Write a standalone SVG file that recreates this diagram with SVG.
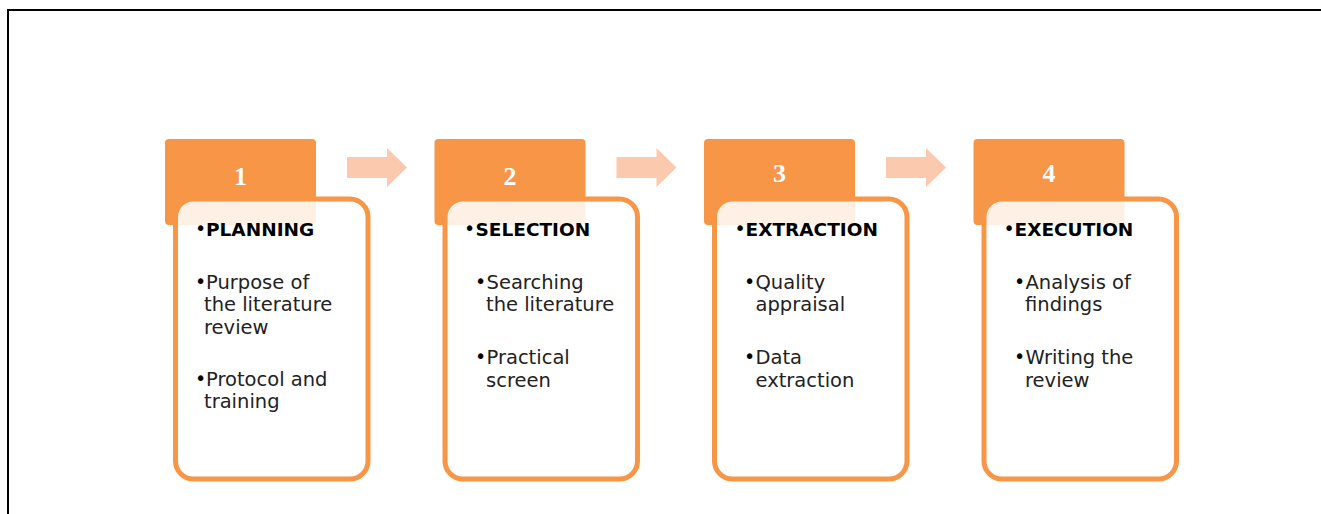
<svg xmlns="http://www.w3.org/2000/svg" width="1321" height="514" viewBox="0 0 1321 514">
<style>
.hdr{fill:#F79646}
.card{fill:#fff;fill-opacity:0.86;stroke:#F79646;stroke-width:5}
.num{font-family:"Liberation Serif",serif;font-weight:bold;font-size:26px;fill:#fff;text-anchor:middle}
.h{font-family:"DejaVu Sans",sans-serif;font-weight:bold;font-size:18.5px;fill:#000}
.t{font-family:"DejaVu Sans",sans-serif;font-size:19.5px;fill:#222}
.b{font-family:"DejaVu Sans",sans-serif;font-size:19px;fill:#000}
.arr{fill:#FBC9AE}
</style>
<rect width="1321" height="514" fill="#fff"/>
<path d="M8 514 V10 H1321" fill="none" stroke="#000" stroke-width="2"/>
<g id="connectors">
<polygon class="arr" points="347,157 387,157 387,148 407,167.5 387,187 387,178 347,178"/>
<polygon class="arr" transform="translate(269.5,0)" points="347,157 387,157 387,148 407,167.5 387,187 387,178 347,178"/>
<polygon class="arr" transform="translate(539,0)" points="347,157 387,157 387,148 407,167.5 387,187 387,178 347,178"/>
</g>
<g id="node1">
<rect class="hdr" x="165" y="139" width="151" height="86" rx="4"/>
<text class="num" x="240.5" y="185">1</text>
<rect class="card" x="175.5" y="199" width="192.5" height="280" rx="18"/>
<text class="b" x="195" y="235">•</text><text class="h" x="206" y="236">PLANNING</text>
<text class="b" x="195" y="288">•</text><text class="t" x="206" y="289">Purpose of</text>
<text class="t" x="204" y="311">the literature</text>
<text class="t" x="204" y="334">review</text>
<text class="b" x="195" y="385">•</text><text class="t" x="206" y="386">Protocol and</text>
<text class="t" x="204" y="408">training</text>
</g>
<g id="node2">
<rect class="hdr" x="434.5" y="139" width="151" height="86" rx="4"/>
<text class="num" x="510" y="185">2</text>
<rect class="card" x="445" y="199" width="192.5" height="280" rx="18"/>
<text class="b" x="464" y="235">•</text><text class="h" x="475.5" y="236">SELECTION</text>
<text class="b" x="475" y="288">•</text><text class="t" x="486.5" y="289">Searching</text>
<text class="t" x="486" y="311">the literature</text>
<text class="b" x="475" y="363">•</text><text class="t" x="486.5" y="364">Practical</text>
<text class="t" x="486" y="387">screen</text>
</g>
<g id="node3">
<rect class="hdr" x="704" y="139" width="151" height="86" rx="4"/>
<text class="num" x="779.5" y="182">3</text>
<rect class="card" x="714.5" y="199" width="192.5" height="280" rx="18"/>
<text class="b" x="734.5" y="235">•</text><text class="h" x="745.5" y="236">EXTRACTION</text>
<text class="b" x="744" y="288">•</text><text class="t" x="755.5" y="289">Quality</text>
<text class="t" x="755.5" y="311">appraisal</text>
<text class="b" x="744" y="363">•</text><text class="t" x="755.5" y="364">Data</text>
<text class="t" x="755.5" y="387">extraction</text>
</g>
<g id="node4">
<rect class="hdr" x="973.5" y="139" width="151" height="86" rx="4"/>
<text class="num" x="1049" y="182">4</text>
<rect class="card" x="984" y="199" width="192.5" height="280" rx="18"/>
<text class="b" x="1003.5" y="235">•</text><text class="h" x="1014.5" y="236">EXECUTION</text>
<text class="b" x="1014" y="288">•</text><text class="t" x="1025.5" y="289">Analysis of</text>
<text class="t" x="1025" y="311">findings</text>
<text class="b" x="1014" y="363">•</text><text class="t" x="1025.5" y="364">Writing the</text>
<text class="t" x="1025" y="387">review</text>
</g>
</svg>
